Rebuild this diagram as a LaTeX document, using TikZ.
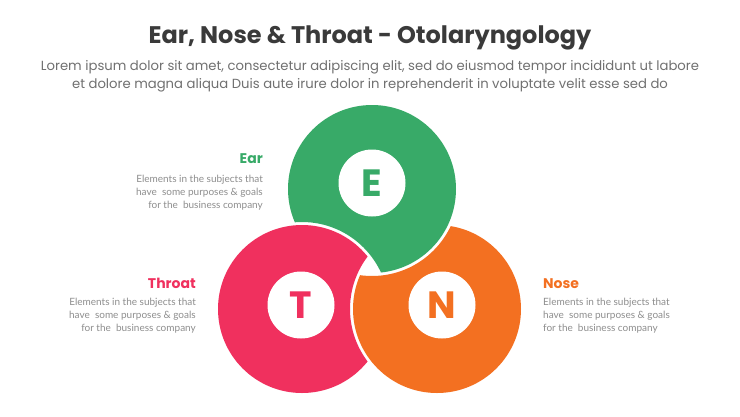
\documentclass[tikz,border=0pt]{standalone}
\usepackage{fontspec}
\setmainfont{Poppins}
\newfontfamily\latofont{Lato}
\definecolor{egreen}{HTML}{38AA68}
\definecolor{tpink}{HTML}{F0305E}
\definecolor{norange}{HTML}{F37021}
\definecolor{titlegray}{HTML}{3A3A3A}
\definecolor{subgray}{HTML}{707070}
\definecolor{bodygray}{HTML}{8E8E8E}
\tikzset{
 ttl/.style={font=\fontsize{24}{28}\selectfont\bfseries, text=titlegray, inner sep=0},
 subt/.style={font=\fontsize{13.2}{16}\selectfont, text=subgray, inner sep=0},
 head/.style={font=\fontsize{14}{16}\selectfont\bfseries, inner sep=0},
 bodyl/.style={font=\latofont\fontsize{10}{12}\selectfont, text=bodygray, inner sep=0},
 hole/.style={fill=white, circle, minimum size=67pt, inner sep=0, font=\fontsize{38}{42}\selectfont\bfseries},
}
\begin{document}
\begin{tikzpicture}[x=1pt,y=-1pt]
\useasboundingbox[fill=white] (0,0) rectangle (740,416);
\node[ttl, anchor=base] (title) at (370,43) {Ear, Nose \& Throat - Otolaryngology};
\node[subt, anchor=base] (sub1) at (370,70) {Lorem ipsum dolor sit amet, consectetur adipiscing elit, sed do eiusmod tempor incididunt ut labore};
\node[subt, anchor=base] (sub2) at (370,88) {et dolore magna aliqua Duis aute irure dolor in reprehenderit in voluptate velit esse sed do};

\coordinate (cE) at (372,189);
\coordinate (cT) at (302,309);
\coordinate (cN) at (437,309);

\begin{scope}[even odd rule]
\clip (-20,-20) rectangle (760,440) (cT) circle (87pt);
\fill[egreen] (cE) circle (84pt);
\end{scope}
\begin{scope}[even odd rule]
\clip (-20,-20) rectangle (760,440) (cN) circle (87pt);
\fill[tpink] (cT) circle (84pt);
\end{scope}
\begin{scope}[even odd rule]
\clip (-20,-20) rectangle (760,440) (cE) circle (87pt);
\fill[norange] (cN) circle (84pt);
\end{scope}

\node[hole, text=egreen] (e) at (372,183) {E};
\node[hole, text=tpink] (t) at (301,305) {T};
\node[hole, text=norange] (n) at (442,305) {N};

\node[head, text=egreen, anchor=base east] (earh) at (263,163) {Ear};
\node[bodyl, anchor=base east] (ear1) at (263,182) {Elements in the subjects that};
\node[bodyl, anchor=base east] (ear2) at (263,195) {have\ \ some purposes \& goals};
\node[bodyl, anchor=base east] (ear3) at (263,208) {for the\ \ business company};

\node[head, text=tpink, anchor=base east] (thrh) at (196,288) {Throat};
\node[bodyl, anchor=base east] (thr1) at (196,305) {Elements in the subjects that};
\node[bodyl, anchor=base east] (thr2) at (196,318) {have\ \ some purposes \& goals};
\node[bodyl, anchor=base east] (thr3) at (196,331) {for the\ \ business company};

\node[head, text=norange, anchor=base west] (nosh) at (543,288) {Nose};
\node[bodyl, anchor=base west] (nos1) at (543,305) {Elements in the subjects that};
\node[bodyl, anchor=base west] (nos2) at (543,318) {have\ \ some purposes \& goals};
\node[bodyl, anchor=base west] (nos3) at (543,331) {for the\ \ business company};
\end{tikzpicture}
\end{document}
